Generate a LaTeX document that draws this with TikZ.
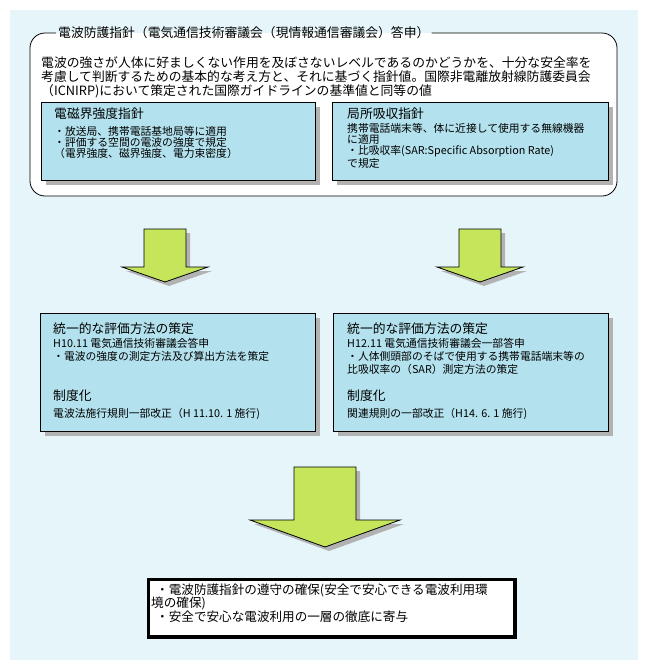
\documentclass[tikz,border=0pt]{standalone}
\usepackage{fontspec}
\newfontfamily\jpfont{Noto Sans CJK JP}
\usetikzlibrary{positioning,shadows}

\tikzset{
  panel/.style={draw=borderColour, fill=panelColour, line width=0.8pt, anchor=north west,
    drop shadow={shadow xshift=5pt, shadow yshift=-5pt, fill=shadowColour, opacity=1}},
  % base anchor of a multi-line text sits on its last line
  bigtext/.style={font=\jpfont\fontsize{12.8}{14}\selectfont, anchor=base west, inner sep=0pt, align=left},
  smalltext/.style={font=\jpfont\fontsize{10.8}{9.8}\selectfont, anchor=base west, inner sep=0pt, align=left},
  midtext/.style={smalltext, font=\jpfont\fontsize{10.8}{13}\selectfont},
}

\begin{document}
\begin{tikzpicture}[x=1pt, y=-1pt]
    % Define colours
    \definecolor{bgColour}{HTML}{E5F5FA}
    \definecolor{panelColour}{HTML}{B3E2EE}
    \definecolor{shadowColour}{HTML}{B2B2B2}
    \definecolor{arrowColour}{HTML}{C5E55A}
    \definecolor{borderColour}{HTML}{000000}

    % Background
    \useasboundingbox (0,0) rectangle (648,670);
    \fill[bgColour] (10,10) rectangle (638,660);

    % Draw outer guideline frame
    \fill[white, rounded corners=15pt] (30,33) rectangle (617,196);
    \node[bigtext, anchor=west, inner sep=2pt] (guideTitle) at (56,33)
        {電波防護指針（電気通信技術審議会（現情報通信審議会）答申）};
    \draw[borderColour, line width=0.8pt, rounded corners=15pt]
        (guideTitle.east) -- (617,33) -- (617,196) -- (30,196) -- (30,33) -- (guideTitle.west);
    \node[bigtext] (guideText) at (41,95)
        {電波の強さが人体に好ましくない作用を及ぼさないレベルであるのかどうかを、十分な安全率を\\
         考慮して判断するための基本的な考え方と、それに基づく指針値。国際非電離放射線防護委員会\\
         （ICNIRP)において策定された国際ガイドラインの基準値と同等の値};

    % Draw the two guideline panels
    \node[panel, minimum width=274, minimum height=78] (emfBox) at (41,102) {};
    \node[panel, minimum width=276, minimum height=78] (sarBox) at (332,102) {};
    \node[bigtext] (emfTitle) at (54,118) {電磁界強度指針};
    \node[smalltext] (emfText) at (54,157.6)
        {・放送局、携帯電話基地局等に適用\\
         ・評価する空間の電波の強度で規定\\
         （電界強度、磁界強度、電力束密度）};
    \node[bigtext] (sarTitle) at (347,118) {局所吸収指針};
    \node[smalltext] (sarText) at (347,167.4)
        {携帯電話端末等、体に近接して使用する無線機器\\
         に適用\\
         ・比吸収率(SAR:Specific Absorption Rate)\\
         で規定};

    % Draw block arrows
    \foreach \cx/\ty/\sw/\sb/\hw/\tip in {165/229/21/267/43/282, 480/229/21/267/43/282, 325/467/31/520/75/547} {
        \fill[shadowColour] (\cx-\sw+4,\ty+4) -- (\cx+\sw+4,\ty+4) -- (\cx+\sw+4,\sb+4) -- (\cx+\hw+4,\sb+4)
            -- (\cx+4,\tip+4) -- (\cx-\hw+4,\sb+4) -- (\cx-\sw+4,\sb+4) -- cycle;
        \filldraw[fill=arrowColour, draw=borderColour, line width=0.8pt]
            (\cx-\sw,\ty) -- (\cx+\sw,\ty) -- (\cx+\sw,\sb) -- (\cx+\hw,\sb)
            -- (\cx,\tip) -- (\cx-\hw,\sb) -- (\cx-\sw,\sb) -- cycle;
    }

    % Draw evaluation panels
    \node[panel, minimum width=275, minimum height=118] (evalLeft) at (40,313) {};
    \node[panel, minimum width=275, minimum height=118] (evalRight) at (333,313) {};

    \node[bigtext] (evalLeftTitle) at (53,333) {統一的な評価方法の策定};
    \node[midtext] (evalLeftText) at (53,360)
        {H10.11 電気通信技術審議会答申\\
         ・電波の強度の測定方法及び算出方法を策定};
    \node[bigtext] (ruleLeftTitle) at (53,400) {制度化};
    \node[midtext] (ruleLeftText) at (53,417) {電波法施行規則一部改正（H 11.10. 1 施行)};

    \node[bigtext] (evalRightTitle) at (347,333) {統一的な評価方法の策定};
    \node[midtext] (evalRightText) at (347,373)
        {H12.11 電気通信技術審議会一部答申\\
         ・人体側頭部のそばで使用する携帯電話端末等の\\
         比吸収率の（SAR）測定方法の策定};
    \node[bigtext] (ruleRightTitle) at (347,400) {制度化};
    \node[midtext] (ruleRightText) at (347,417) {関連規則の一部改正（H14. 6. 1 施行)};

    % Draw result box
    \node[draw=borderColour, fill=white, line width=3pt, minimum width=367, minimum height=58,
        anchor=north west] (resultBox) at (146.5,577.5) {};
    \draw[borderColour, line width=0.8pt] ([shift={(3,3)}]resultBox.north west)
        rectangle ([shift={(-3,-3)}]resultBox.south east);
    \node[bigtext, font=\jpfont\fontsize{12.6}{13.5}\selectfont] (resultText) at (151,621)
        {\hspace{5pt}・電波防護指針の遵守の確保(安全で安心できる電波利用環\\
         境の確保)\\
         \hspace{5pt}・安全で安心な電波利用の一層の徹底に寄与};

\end{tikzpicture}
\end{document}
